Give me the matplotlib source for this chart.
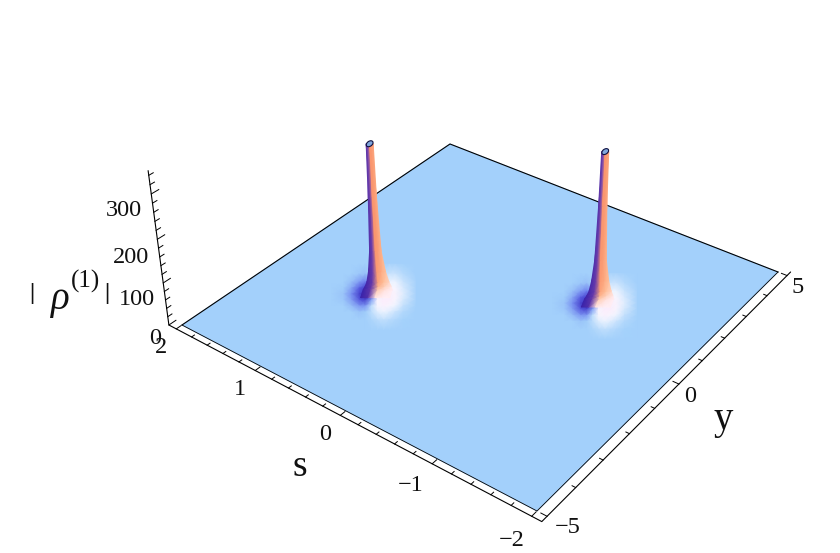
import numpy as np
import matplotlib
matplotlib.use('Agg')
import matplotlib.pyplot as plt
from matplotlib.colors import LinearSegmentedColormap
from matplotlib.patches import Ellipse

plt.rcParams['font.family'] = ['Liberation Serif', 'DejaVu Serif']

# axis values
s_major = [2, 1, 0, -1, -2]
y_major = [-5, 0, 5]
z_major = [0, 100, 200, 300]
s_labels = ['2', '1', '0', '\u22121', '\u22122']
y_labels = ['\u22125', '0', '5']
z_labels = ['0', '100', '200', '300']
s_minor = np.arange(-20, 21, 2) / 10
y_minor = np.arange(-5, 6, 1)
z_minor = np.arange(0, 341, 20)
z_top = 350

# peaks
peak_s = [0.90, -0.86]
peak_y = [-1.38, 1.43]
peak_z = [342, 343]

# spike profile: height, left and right edge around the spike axis (px)
spike_z = [-14, 6, 14, 25, 50, 100, 225, 345]
spike_left = [-15, -12, -10, -8, -6, -4, -3, -2.8]
spike_right = [14, 17, 16, 14, 11, 7.5, 5.2, 4.2]
spike_u = [0, 0.25, 0.5, 0.75, 1]
spike_shade = [[0.02, 0.10, 0.95, 1.00, 1.00],
               [0.03, 0.16, 0.78, 0.92, 1.00],
               [0.04, 0.17, 0.64, 0.82, 0.96],
               [0.06, 0.17, 0.56, 0.70, 0.84],
               [0.08, 0.18, 0.52, 0.60, 0.72],
               [0.10, 0.20, 0.50, 0.54, 0.64],
               [0.12, 0.22, 0.50, 0.52, 0.60],
               [0.14, 0.26, 0.50, 0.52, 0.58]]

# shading of the sheet round each peak
blob_dx = [-44, -32, -24, -16, -10, -4, 2, 8, 14, 20, 28, 40]
blob_dy = [-28, -18, -10, -4, 2, 8, 14, 20, 28, 38]
blob_shade = [[.50, .50, .50, .50, .50, .50, .50, .51, .52, .52, .51, .50],
              [.50, .50, .50, .48, .46, .50, .54, .58, .62, .62, .56, .50],
              [.50, .50, .46, .37, .30, .34, .55, .66, .72, .72, .62, .52],
              [.50, .49, .40, .22, .13, .20, .60, .78, .82, .80, .66, .52],
              [.50, .47, .34, .14, .05, .18, .72, .86, .88, .84, .68, .52],
              [.50, .48, .38, .20, .14, .38, .82, .92, .90, .82, .65, .52],
              [.50, .50, .45, .36, .36, .58, .80, .86, .82, .72, .60, .51],
              [.50, .50, .50, .47, .49, .58, .68, .72, .68, .62, .55, .50],
              [.50, .50, .50, .50, .50, .53, .57, .59, .57, .54, .51, .50],
              [.50, .50, .50, .50, .50, .50, .50, .50, .50, .50, .50, .50]]

sheet_s = [-2, 2]
sheet_y = [-5, 5]
sheet_shade = [[.50, .50],
               [.50, .50]]

sheet_cmap = LinearSegmentedColormap.from_list('sheet', [
    (0.0, (45/255, 25/255, 170/255)),
    (0.25, (95/255, 105/255, 235/255)),
    (0.5, (162/255, 208/255, 251/255)),
    (0.75, (245/255, 248/255, 255/255)),
    (1.0, (255/255, 232/255, 250/255))])
spike_cmap = LinearSegmentedColormap.from_list('spike', [
    (0.0, (50/255, 30/255, 170/255)),
    (0.25, (130/255, 75/255, 170/255)),
    (0.5, (250/255, 150/255, 110/255)),
    (0.7, (255/255, 190/255, 150/255)),
    (1.0, (255/255, 238/255, 245/255))])

# surface corners (s, y) -> picture pixels, sets the projection
corner_sy = [(2, -5), (-2, -5), (-2, 5), (2, 5)]
corner_px = [(182, 325), (537, 511), (778, 272), (450, 144)]
vanish = np.array([475.0, 2600.0, 1.0])
box_s = 2.097
box_y = 5.18


def fit_h(src, dst):
    rows = []
    rhs = []
    for (a, b), (u, v) in zip(src, dst):
        rows.append([a, b, 1, 0, 0, 0, -u * a, -u * b])
        rows.append([0, 0, 0, a, b, 1, -v * a, -v * b])
        rhs += [u, v]
    p = np.linalg.solve(np.array(rows, float), np.array(rhs, float))
    return np.append(p, 1).reshape(3, 3)


H = fit_h(corner_sy, corner_px)
# z column: z axis top at (145.7, 171.7) for z_top
w0 = H[2] @ np.array([box_s, -box_y, 1.0])
f = (171.7 - 326.0) / (vanish[1] - 326.0)
k = f * w0 / ((1 - f) * z_top)


def proj(s, y, z=0.0):
    s, y, z = np.asarray(s, float), np.asarray(y, float), np.asarray(z, float)
    w = H[2, 0] * s + H[2, 1] * y + H[2, 2] + k * z
    u = H[0, 0] * s + H[0, 1] * y + H[0, 2] + k * z * vanish[0]
    v = H[1, 0] * s + H[1, 1] * y + H[1, 2] + k * z * vanish[1]
    return u / w, v / w


fig = plt.figure(figsize=(8.4, 5.53), dpi=100)
ax = fig.add_axes([0, 0, 1, 1])
ax.set_xlim(0, 840)
ax.set_ylim(553, 0)
ax.axis('off')

# sheet
ss, yy = np.meshgrid(sheet_s, sheet_y)
X, Y = proj(ss, yy)
ax.pcolormesh(X, Y, np.array(sheet_shade), shading='gouraud', cmap=sheet_cmap,
              vmin=0, vmax=1, zorder=1)

for i in range(2):
    bx, by = proj(peak_s[i], peak_y[i])
    gx, gy = np.meshgrid(blob_dx, blob_dy)
    ax.pcolormesh(bx + gx, by + gy, np.array(blob_shade), shading='gouraud',
                  cmap=sheet_cmap, vmin=0, vmax=1, zorder=2)

# black edge of the sheet, back sides only are strong
ax.plot([corner_px[j][0] for j in [0, 3, 2]], [corner_px[j][1] for j in [0, 3, 2]],
        color='black', lw=0.8, zorder=3)
ax.plot([corner_px[j][0] for j in [0, 1, 2]], [corner_px[j][1] for j in [0, 1, 2]],
        color='black', lw=0.6, zorder=3)

# spikes
for i in range(2):
    cx, cy = proj(peak_s[i], peak_y[i], np.array(spike_z) * peak_z[i] / 345)
    left = cx + np.array(spike_left)
    right = cx + np.array(spike_right)
    u = np.array(spike_u)
    mx = left[:, None] + (right - left)[:, None] * u[None, :]
    my = np.repeat(cy[:, None], len(u), axis=1)
    ax.pcolormesh(mx, my, np.array(spike_shade), shading='gouraud',
                  cmap=spike_cmap, vmin=0, vmax=1, zorder=4)
    tx, ty = proj(peak_s[i], peak_y[i], peak_z[i])
    ax.add_patch(Ellipse((tx + 0.7, ty), 7.5, 5, angle=-35, facecolor='#7FA6DC',
                         edgecolor='#101040', lw=0.8, zorder=5))

# box axes
lc = dict(color='black', lw=0.8, zorder=6, solid_capstyle='round')
ax0, ay0 = proj(box_s, -box_y)
ax1, ay1 = proj(-box_s, -box_y)
ax2, ay2 = proj(-box_s, box_y)
ax3, ay3 = proj(box_s, -box_y, z_top)
ax.plot([ax3, ax0, ax1, ax2], [ay3, ay0, ay1, ay2], **lc)

tc = dict(color='black', lw=0.7, zorder=6)
for v in s_minor:
    d = 0.15 if v == round(v) else 0.09
    x, y = proj([v, v], [-box_y, -box_y + d])
    ax.plot(x, y, **tc)
for v in y_minor:
    d = 0.06 if v % 5 == 0 else 0.035
    x, y = proj([-box_s, -box_s + d], [v, v])
    ax.plot(x, y, **tc)
for v in z_minor:
    d = 0.22 if v % 100 == 0 else 0.13
    x, y = proj([box_s, box_s], [-box_y, -box_y + d], [v, v])
    ax.plot(x, y, **tc)

# tick labels
tk = dict(fontsize=17.5, ha='center', va='center', color='#111111', zorder=7)
s_off = [(-15, 19), (-15, 19), (-15, 19), (-22, 22), (-20, 24)]
for v, lab, (dx, dy) in zip(s_major, s_labels, s_off):
    x, y = proj(v, -box_y)
    ax.text(x + dx, y + dy, lab, **tk)
y_off = [(21, 11), (11, 12), (11, 12)]
for v, lab, (dx, dy) in zip(y_major, y_labels, y_off):
    x, y = proj(-box_s, v)
    ax.text(x + dx, y + dy, lab, **tk)
z_off = [(-14, 14), (-26, 17), (-26, 18), (-27, 17)]
for v, lab, (dx, dy) in zip(z_major, z_labels, z_off):
    x, y = proj(box_s, -box_y, v)
    ax.text(x + dx, y + dy, lab, **tk)

# axis titles
ax.text(300, 467, 's', fontsize=27, ha='center', va='center', color='#111111')
ax.text(723, 420, 'y', fontsize=28, ha='center', va='center', color='#111111')
ax.text(60, 299, '\u03c1', fontsize=28, style='italic', ha='center', va='center', color='#111111')
ax.text(86, 281, '(1)', fontsize=18, ha='center', va='center', color='#111111')
ax.text(32, 294, '|', fontsize=17, fontweight='bold', ha='center', va='center', color='#111111')
ax.text(107, 294, '|', fontsize=17, fontweight='bold', ha='center', va='center', color='#111111')

fig.savefig('out.png', dpi=100)
